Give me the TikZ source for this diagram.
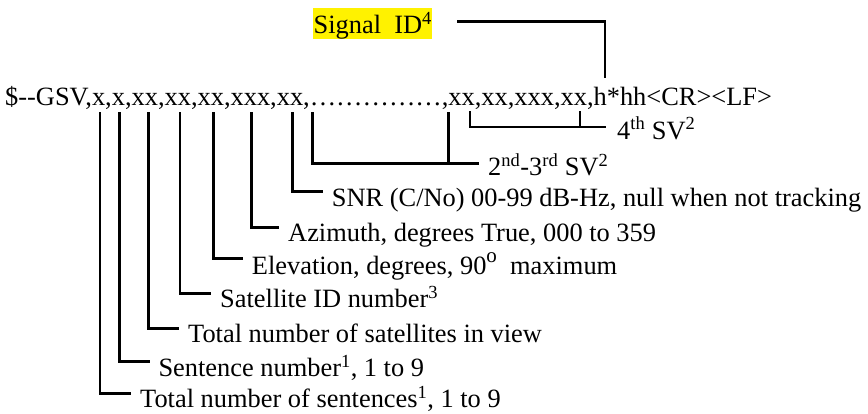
\documentclass[tikz,border=0pt]{standalone}
\usepackage{fontspec}
\setmainfont{Liberation Serif}
\begin{document}
\begin{tikzpicture}[x=1pt,y=-1pt,
  trait/.style={line width=2.6pt,line cap=rect},
  phrase/.style={anchor=base west,inner sep=0pt,font=\fontsize{26.4}{30}\selectfont},
  champ/.style={anchor=west,inner xsep=10pt,inner ysep=0pt,text height=29pt,text depth=0pt,font=\fontsize{26.4}{30}\selectfont},
  marque/.style={fill=yellow,anchor=north west,inner xsep=0.5pt,inner ysep=0pt,text height=25pt,text depth=6pt,font=\fontsize{26.4}{30}\selectfont}]
\useasboundingbox (0,0) rectangle (868,413); % la taille de l'image
\node[phrase] (gsv) at (5,105) {\$-{}-GSV,x,x,xx,xx,xx,xxx,xx,……………,xx,xx,xxx,xx,h*hh<CR><LF>}; % la trame
\node[marque] (sig) at (313,8) {Signal~ ID\textsuperscript{4}};
% les points de depart sous la trame
\coordinate (tA) at (100,113);
\coordinate (tB) at (119.3,113);
\coordinate (tC) at (148.3,113);
\coordinate (tD) at (180,113);
\coordinate (tE) at (213.3,113);
\coordinate (tF) at (251.7,113);
\coordinate (tG) at (292.3,113);
\coordinate (tH) at (312.3,113);
\coordinate (tI) at (448.3,113);
\coordinate (tJ) at (470,112);
\coordinate (tK) at (580,112);
\coordinate (tL) at (605,77);
% les descriptions des champs
\node[champ] (nbphr) at (130,393.3) {Total number of sentences\textsuperscript{1}, 1 to 9};
\node[champ] (numphr) at (148.3,361.7) {Sentence number\textsuperscript{1}, 1 to 9};
\node[champ] (nbsat) at (178,328.3) {Total number of satellites in view};
\node[champ] (idsat) at (210,293.3) {Satellite ID number\textsuperscript{3}};
\node[champ,text height=33pt] (elev) at (241.7,258.3) {Elevation, degrees, 90\raisebox{0.46em}{\fontsize{21}{24}\selectfont o}~ maximum};
\node[champ] (azim) at (278,227.3) {Azimuth, degrees True, 000 to 359};
\node[champ] (snr) at (321.7,191.7) {SNR (C/No) 00-99 dB-Hz, null when not tracking};
\node[champ,text height=24pt] (svb) at (478,163.3) {2\textsuperscript{nd}-3\textsuperscript{rd} SV\textsuperscript{2}};
\node[champ,text height=24pt,inner xsep=12pt] (svc) at (605,127) {4\textsuperscript{th} SV\textsuperscript{2}};
% les traits
\draw[trait] (tA) |- (nbphr.west);
\draw[trait] (tB) |- (numphr.west);
\draw[trait] (tC) |- (nbsat.west);
\draw[trait] (tD) |- (idsat.west);
\draw[trait] (tE) |- (elev.west);
\draw[trait] (tF) |- (azim.west);
\draw[trait] (tG) |- (snr.west);
\draw[trait] (tH) |- (svb.west);
\draw[trait] (tI) -- (tI |- svb.west);
\draw[trait] (tJ) |- (svc.west);
\draw[trait] (tK) -- (tK |- svc.west);
\draw[trait] ([xshift=25.7pt,yshift=2.5pt]sig.east) -| (tL);
\end{tikzpicture}
\end{document}
